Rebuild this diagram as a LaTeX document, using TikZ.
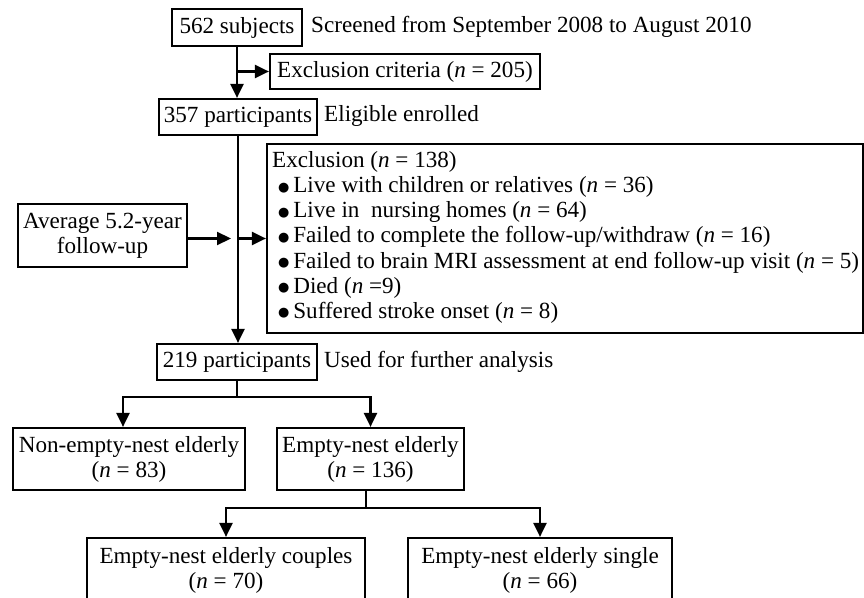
\documentclass[tikz,border=0pt]{standalone}
\usepackage{fontspec}
\setmainfont{Liberation Serif}
\newfontfamily\dvfont{DejaVu Sans}
\usetikzlibrary{arrows.meta}
\newcommand{\blt}{\raisebox{1.5bp}{\dvfont\fontsize{13}{13}\selectfont ●}\,}
\begin{document}
\begin{tikzpicture}[x=1bp,y=-1bp,
  every node/.style={font=\fontsize{23.2}{25}\selectfont},
  box/.style={draw, line width=2.2bp, inner sep=0pt, align=center},
  lbl/.style={inner sep=0pt, anchor=west, text height=15bp, text depth=5bp},
  conn/.style={line width=2.2bp},
  arr/.style={line width=2.2bp, -{Triangle[length=14bp,width=13bp]}}]
\useasboundingbox (0,0) rectangle (864,598);
\clip (0,0) rectangle (864,598);
% boxes
\node[box, minimum width=130bp, minimum height=37bp] (s562) at (237,27.5) {562 subjects};
\node[lbl] (scr) at (311,27.5) {Screened from September 2008 to August 2010};
\node[box, minimum width=270bp, minimum height=35bp] (ex1) at (405,71.5) {Exclusion criteria (\textit{n} = 205)};
\node[box, minimum width=158bp, minimum height=36bp] (p357) at (238,117) {357 participants};
\node[lbl] (elig) at (324,117) {Eligible enrolled};
\node[box, minimum width=169bp, minimum height=63bp] (avg) at (102.5,235.5) {Average 5.2-year\\follow-up};
\node[box, minimum width=596bp, minimum height=189bp] (ex2) at (565,238.5) {};
\node[lbl] (t0) at (272,163) {Exclusion (\textit{n} = 138)};
\node[lbl] (t1) at (278,188) {\blt Live with children or relatives (\textit{n} = 36)};
\node[lbl] (t2) at (278,213) {\blt Live in\ \ nursing homes (\textit{n} = 64)};
\node[lbl] (t3) at (278,238) {\blt Failed to complete the follow-up/withdraw (\textit{n} = 16)};
\node[lbl] (t4) at (278,263) {\blt Failed to brain MRI assessment at end follow-up visit (\textit{n} = 5)};
\node[lbl] (t5) at (278,288) {\blt Died (\textit{n} =9)};
\node[lbl] (t6) at (278,313) {\blt Suffered stroke onset (\textit{n} = 8)};
\node[box, minimum width=160bp, minimum height=36bp] (p219) at (237,362) {219 participants};
\node[lbl] (used) at (324,362) {Used for further analysis};
\node[box, minimum width=232bp, minimum height=62bp] (ne) at (129,459) {Non-empty-nest elderly\\(\textit{n} = 83)};
\node[box, minimum width=187bp, minimum height=62bp] (en) at (370.5,459) {Empty-nest elderly\\(\textit{n} = 136)};
\node[box, minimum width=278bp, minimum height=64bp] (cp) at (226,570) {Empty-nest elderly couples\\(\textit{n} = 70)};
\node[box, minimum width=264bp, minimum height=64bp] (sg) at (540,570) {Empty-nest elderly single\\(\textit{n} = 66)};
% connectors
\draw[arr] (s562.south) -- (s562.south |- p357.north);
\draw[arr] (s562.south |- ex1.west) -- (ex1.west);
\draw[arr] (p357.south) -- (p357.south |- p219.north);
\coordinate (m) at (p357.south |- ex2.west);
\draw[arr] (avg.east |- ex2.west) -- ([xshift=-7bp]m);
\draw[arr] (m) -- (ex2.west);
\coordinate (j1) at (237,397);
\draw[conn] (p219.south) -- (j1);
\draw[arr] (j1) -| ([xshift=-6bp]ne.north);
\draw[arr] (j1) -| (en.north);
\coordinate (j2) at (366,508);
\draw[conn] (en.south -| j2) -- (j2);
\draw[arr] (j2) -| (cp.north);
\draw[arr] (j2) -| (sg.north);
\end{tikzpicture}
\end{document}
